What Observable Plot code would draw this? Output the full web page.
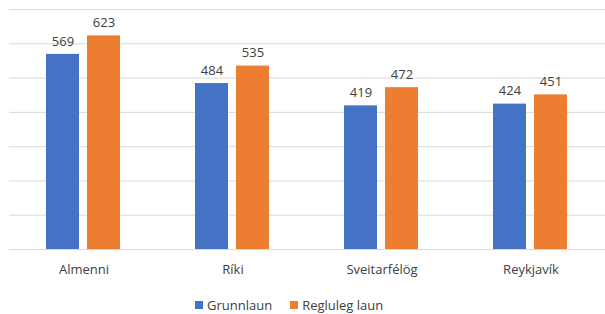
<!DOCTYPE html>
<html>
<head>
<meta charset="utf-8">
<script src="https://cdn.jsdelivr.net/npm/d3@7"></script>
<script src="https://cdn.jsdelivr.net/npm/@observablehq/plot@0.6"></script>
<style>
  body { margin: 0; background: #fff; font-family: "Open Sans", sans-serif; }
  #chart { width: 605px; height: 314px; position: relative; }
  .legend { position: absolute; left: 195px; top: 296px; display: flex; align-items: center; font-size: 13px; color: #404040; line-height: 18px; }
  .sw { width: 8px; height: 8px; display: inline-block; margin-right: 4px; }
  .item { display: flex; align-items: center; margin-right: 18px; }
</style>
</head>
<body>
<div id="chart"></div>
<script>
const categories = ["Almenni", "Ríki", "Sveitarfélög", "Reykjavík"];
const seriesNames = ["Grunnlaun", "Regluleg laun"];
const grunnlaun = [569, 484, 419, 424];
const reglulegLaun = [623, 535, 472, 451];
const yTicks = [0, 100, 200, 300, 400, 500, 600, 700];
const colors = ["#4472C4", "#ED7D31"];

const data = [];
categories.forEach((c, i) => {
  data.push({cat: c, series: seriesNames[0], value: grunnlaun[i]});
  data.push({cat: c, series: seriesNames[1], value: reglulegLaun[i]});
});

const plot = Plot.plot({
  width: 605,
  height: 290,
  marginTop: 9,
  marginBottom: 41,
  marginLeft: 8,
  marginRight: 0,
  style: {fontFamily: "Open Sans, sans-serif", fontSize: "13px", color: "#404040", background: "#fff"},
  fx: {domain: categories, padding: 0, label: null, axis: "bottom", tickSize: 0, tickPadding: 15},
  x: {domain: seriesNames, paddingInner: 0.19, paddingOuter: 0.87, axis: null},
  y: {domain: [0, 700], axis: null},
  color: {domain: seriesNames, range: colors},
  marks: [
    Plot.gridY(yTicks, {stroke: "#D9D9D9", strokeOpacity: 1, strokeWidth: 1}),
    Plot.barY(data, {fx: "cat", x: "series", y: "value", fill: "series"}),
    Plot.text(data, {fx: "cat", x: "series", y: "value", text: d => String(d.value), dy: -13, fill: "#404040", fontSize: 13})
  ]
});

const chart = document.getElementById("chart");
chart.appendChild(plot);

const legend = document.createElement("div");
legend.className = "legend";
seriesNames.forEach((s, i) => {
  const item = document.createElement("span");
  item.className = "item";
  const sw = document.createElement("span");
  sw.className = "sw";
  sw.style.background = colors[i];
  item.appendChild(sw);
  item.appendChild(document.createTextNode(s));
  legend.appendChild(item);
});
chart.appendChild(legend);
</script>
</body>
</html>
